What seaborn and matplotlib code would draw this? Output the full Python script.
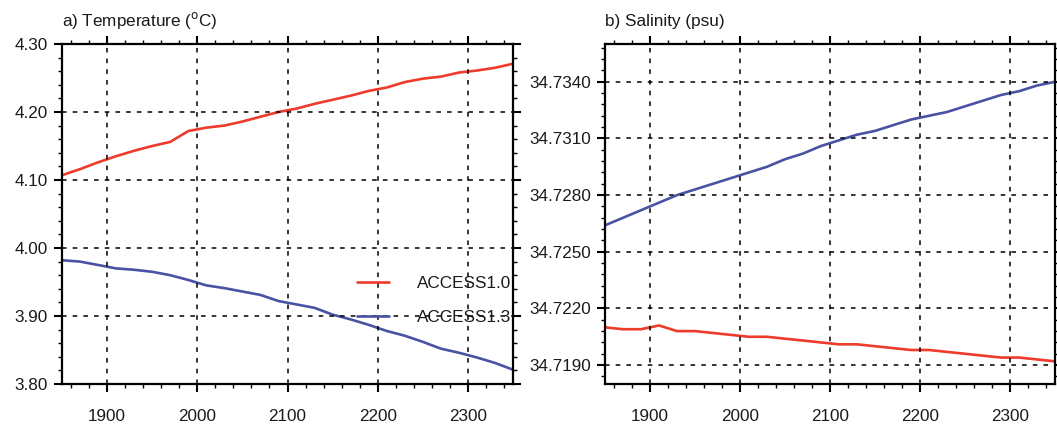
import numpy as np
import pandas as pd
import matplotlib
matplotlib.use("Agg")
import matplotlib.pyplot as plt
import seaborn as sns
from matplotlib.ticker import MultipleLocator, FormatStrFormatter

years = list(range(1850, 2351, 20))

temp_access10 = [4.107, 4.116, 4.126, 4.135, 4.143, 4.150, 4.156, 4.172, 4.177, 4.180,
                 4.186, 4.193, 4.200, 4.205, 4.212, 4.218, 4.224, 4.231, 4.236, 4.244,
                 4.249, 4.252, 4.258, 4.261, 4.265, 4.271]
temp_access13 = [3.982, 3.980, 3.975, 3.970, 3.968, 3.965, 3.960, 3.953, 3.945, 3.941,
                 3.936, 3.931, 3.922, 3.917, 3.912, 3.902, 3.895, 3.887, 3.878, 3.871,
                 3.862, 3.852, 3.846, 3.839, 3.831, 3.821]
sal_access10 = [34.7210, 34.7209, 34.7209, 34.7211, 34.7208, 34.7208, 34.7207, 34.7206,
                34.7205, 34.7205, 34.7204, 34.7203, 34.7202, 34.7201, 34.7201, 34.7200,
                34.7199, 34.7198, 34.7198, 34.7197, 34.7196, 34.7195, 34.7194, 34.7194,
                34.7193, 34.7192]
sal_access13 = [34.7264, 34.7268, 34.7272, 34.7276, 34.7280, 34.7283, 34.7286, 34.7289,
                34.7292, 34.7295, 34.7299, 34.7302, 34.7306, 34.7309, 34.7312, 34.7314,
                34.7317, 34.7320, 34.7322, 34.7324, 34.7327, 34.7330, 34.7333, 34.7335,
                34.7338, 34.7340]

models = ["ACCESS1.0", "ACCESS1.3"]
colors = {"ACCESS1.0": "#ee3b2b", "ACCESS1.3": "#4a52a3"}

temp_ticks = [3.80, 3.90, 4.00, 4.10, 4.20, 4.30]
sal_ticks = [34.7190, 34.7220, 34.7250, 34.7280, 34.7310, 34.7340]
x_ticks = [1900, 2000, 2100, 2200, 2300]

df_t = pd.DataFrame({"year": years * 2,
                     "value": temp_access10 + temp_access13,
                     "model": [models[0]] * len(years) + [models[1]] * len(years)})
df_s = pd.DataFrame({"year": years * 2,
                     "value": sal_access10 + sal_access13,
                     "model": [models[0]] * len(years) + [models[1]] * len(years)})

sns.set_style("ticks")
plt.rcParams['font.family'] = ['Liberation Sans', 'DejaVu Sans']
plt.rcParams['text.color'] = '#1a1a1a'

FS = 12.3
fig = plt.figure(figsize=(10.57, 4.32), dpi=100)
ax1 = fig.add_axes([62/1057, 1-384/432, 451/1057, 340/432])
ax2 = fig.add_axes([605/1057, 1-384/432, 450/1057, 340/432])

sns.lineplot(data=df_t, x="year", y="value", hue="model", palette=colors, ax=ax1,
             linewidth=1.9, legend=True)
sns.lineplot(data=df_s, x="year", y="value", hue="model", palette=colors, ax=ax2,
             linewidth=1.9, legend=False)

def style(ax, yticks, ylim, yminor, fmt):
    ax.set_xlim(1850, 2350)
    ax.set_ylim(*ylim)
    ax.set_xticks(x_ticks)
    ax.set_yticks(yticks)
    ax.xaxis.set_minor_locator(MultipleLocator(20))
    ax.yaxis.set_minor_locator(MultipleLocator(yminor))
    ax.yaxis.set_major_formatter(FormatStrFormatter(fmt))
    ax.set_xlabel("")
    ax.set_ylabel("")
    for s in ax.spines.values():
        s.set_visible(True)
        s.set_linewidth(1.6)
        s.set_color("black")
    ax.tick_params(which="both", direction="out", top=True, right=True,
                   labeltop=False, labelright=False, colors="black", labelcolor="#1a1a1a")
    ax.tick_params(which="major", length=6, width=1.5, labelsize=FS, pad=4)
    ax.tick_params(axis="x", which="major", pad=12)
    ax.tick_params(which="minor", length=3, width=1.0)
    ax.grid(True, which="major", linestyle=(0, (3, 4)), color="black", linewidth=1.1)
    ax.set_axisbelow(False)

style(ax1, temp_ticks, (3.80, 4.30), 0.02, "%.2f")
style(ax2, sal_ticks, (34.7180, 34.7360), 0.0006, "%.4f")

ax1.set_title(r"a) Temperature ($^{\rm o}$C)", loc="left", fontsize=FS, pad=13)
ax2.set_title("b) Salinity (psu)", loc="left", fontsize=FS, pad=13)

leg = ax1.legend(loc="upper left", bbox_to_anchor=(0.62, 0.362), frameon=False,
                 fontsize=FS, handlelength=1.9, handletextpad=1.6, labelspacing=1.12,
                 title=None)
for line in leg.get_lines():
    line.set_linewidth(1.9)

fig.savefig("out.png", dpi=100)
